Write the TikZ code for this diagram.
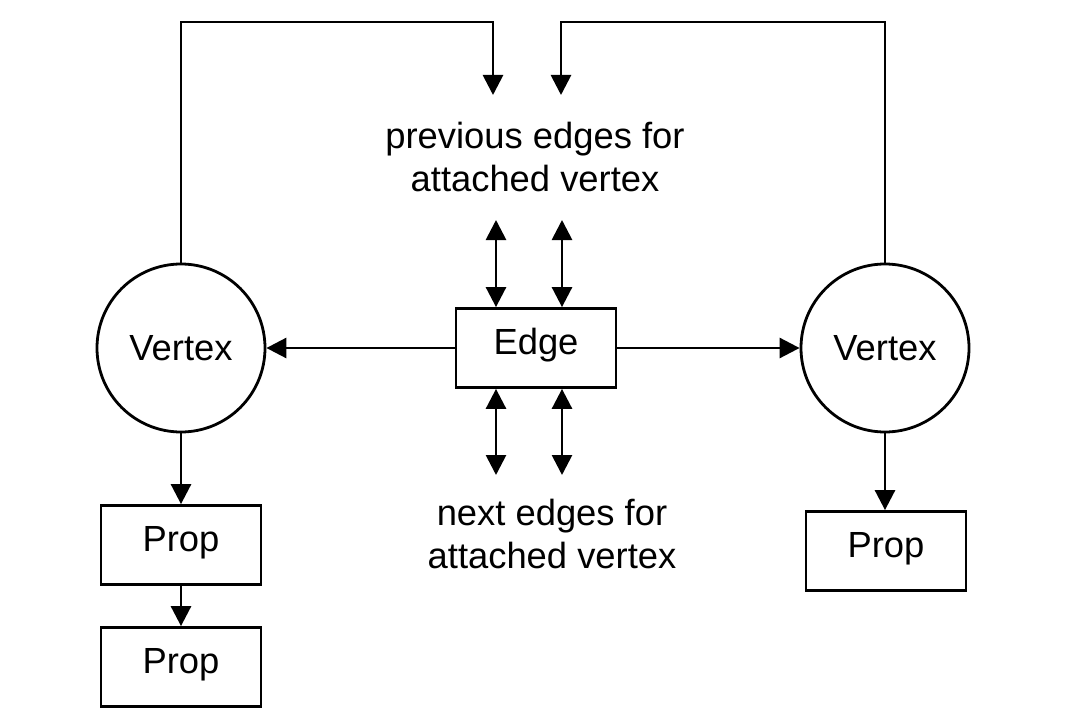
\documentclass[tikz,border=0pt]{standalone}
\usepackage{fontspec}
\setmainfont{Liberation Sans}
\usetikzlibrary{arrows.meta}
\begin{document}
\begin{tikzpicture}[x=1bp,y=-1bp,line width=2.8bp,
  txt/.style={font=\fontsize{36.5}{44}\selectfont},
  vert/.style={circle,draw,minimum size=168bp,inner sep=0pt,txt},
  box/.style={draw,minimum width=160bp,minimum height=79bp,inner sep=0pt,txt,text height=23bp,text depth=10bp},
  lab/.style={align=center,txt,inner sep=0pt},
  arr/.style={-{Triangle[length=20bp,width=20bp]}},
  darr/.style={{Triangle[length=20bp,width=20bp]}-{Triangle[length=20bp,width=20bp]}}]
\useasboundingbox[fill=white] (0,0) rectangle (1092,728);
\node[vert] (lv) at (181,348) {Vertex};
\node[vert] (rv) at (885,348) {Vertex};
\node[box] (e) at (536,348) {Edge};
\node[box] (p1) at (181,545) {Prop};
\node[box] (p2) at (181,667) {Prop};
\node[box] (p3) at (886,551) {Prop};
\node[lab] (prev) at (535,157) {previous edges for\\attached vertex};
\node[lab] (next) at (552,534) {next edges for\\attached vertex};
\coordinate (t1) at (493,95);
\coordinate (t2) at (561,95);
\draw[arr] (lv.north) |- (493,22) -- (t1);
\draw[arr] (rv.north) |- (561,22) -- (t2);
\coordinate (a1) at (496,220); \coordinate (a2) at (562,220);
\coordinate (b1) at (496,475); \coordinate (b2) at (562,475);
\draw[darr] (a1) -- (a1|-e.north);
\draw[darr] (a2) -- (a2|-e.north);
\draw[darr] (b1|-e.south) -- (b1);
\draw[darr] (b2|-e.south) -- (b2);
\draw[arr] (e.west) -- (lv.east);
\draw[arr] (e.east) -- (rv.west);
\draw[arr] (lv.south) -- (p1.north);
\draw[arr] (p1.south) -- (p2.north);
\draw[arr] (rv.south) -- (rv.south|-p3.north);
\end{tikzpicture}
\end{document}
